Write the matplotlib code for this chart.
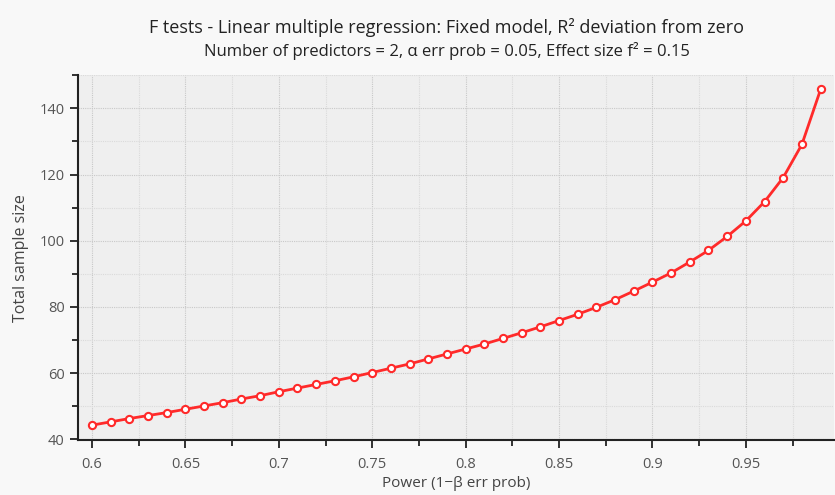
import matplotlib
matplotlib.use("Agg")
import matplotlib.pyplot as plt
from matplotlib.ticker import MultipleLocator, FixedLocator

power = [0.60, 0.61, 0.62, 0.63, 0.64, 0.65, 0.66, 0.67, 0.68, 0.69,
         0.70, 0.71, 0.72, 0.73, 0.74, 0.75, 0.76, 0.77, 0.78, 0.79,
         0.80, 0.81, 0.82, 0.83, 0.84, 0.85, 0.86, 0.87, 0.88, 0.89,
         0.90, 0.91, 0.92, 0.93, 0.94, 0.95, 0.96, 0.97, 0.98, 0.99]
sample_size = [44.3, 45.3, 46.3, 47.2, 48.1, 49.1, 50.1, 51.1, 52.2, 53.2,
               54.4, 55.5, 56.6, 57.7, 58.9, 60.2, 61.5, 62.8, 64.3, 65.8,
               67.3, 68.8, 70.5, 72.2, 74.0, 75.9, 77.8, 79.9, 82.2, 84.8,
               87.5, 90.3, 93.6, 97.1, 101.3, 106.0, 111.8, 119.1, 129.1, 145.7]
x_ticks = [0.6, 0.65, 0.7, 0.75, 0.8, 0.85, 0.9, 0.95]
x_tick_labels = ["0.6", "0.65", "0.7", "0.75", "0.8", "0.85", "0.9", "0.95"]
y_ticks = [40, 60, 80, 100, 120, 140]
y_tick_labels = ["40", "60", "80", "100", "120", "140"]

title = "F tests - Linear multiple regression: Fixed model, R\u00b2 deviation from zero"
subtitle = "Number of predictors = 2, \u03b1 err prob = 0.05, Effect size f\u00b2 = 0.15"
xlabel = "Power (1\u2212\u03b2 err prob)"
ylabel = "Total sample size"

plt.rcParams['font.family'] = ['Open Sans', 'DejaVu Sans']

fig = plt.figure(figsize=(8.35, 4.95), dpi=100, facecolor='#f8f8f8')
ax = fig.add_axes([0.0934, 0.111, 0.905, 0.737])
ax.set_facecolor('#efefef')

ax.plot(power, sample_size, color='#ff2a2a', lw=2.0, marker='o', ms=5.2,
        mfc='white', mec='#ff2a2a', mew=1.5, zorder=3)

ax.set_xlim(0.5925, 0.997)
ax.set_ylim(39.8, 150)

ax.xaxis.set_major_locator(FixedLocator(x_ticks))
ax.set_xticklabels(x_tick_labels)
ax.xaxis.set_minor_locator(MultipleLocator(0.025))
ax.yaxis.set_major_locator(FixedLocator(y_ticks))
ax.set_yticklabels(y_tick_labels)
ax.yaxis.set_minor_locator(MultipleLocator(10))

ax.grid(which='major', color='#c8c8c8', lw=0.8, ls=(0, (1, 1)))
ax.grid(which='minor', color='#dadada', lw=0.8, ls=(0, (1, 1)))
ax.set_axisbelow(True)

for s in ['top', 'right']:
    ax.spines[s].set_visible(False)
for s in ['left', 'bottom']:
    ax.spines[s].set_color('#222222')
    ax.spines[s].set_linewidth(1.5)

ax.tick_params(which='major', direction='out', length=6, width=1.3,
               color='#222222', labelsize=10.5, labelcolor='#555555')
ax.tick_params(axis='x', which='major', pad=6)
ax.tick_params(which='minor', direction='out', length=4, width=1.3, color='#222222')

ax.set_xlabel(xlabel, fontsize=11, color='#444444', labelpad=3)
ax.set_ylabel(ylabel, fontsize=11.5, color='#444444', labelpad=8)

fig.text(0.535, 0.945, title, ha='center', va='center', fontsize=13, color='#222222')
fig.text(0.535, 0.897, subtitle, ha='center', va='center', fontsize=12, color='#222222')

fig.savefig('out.png', dpi=100, facecolor=fig.get_facecolor())
